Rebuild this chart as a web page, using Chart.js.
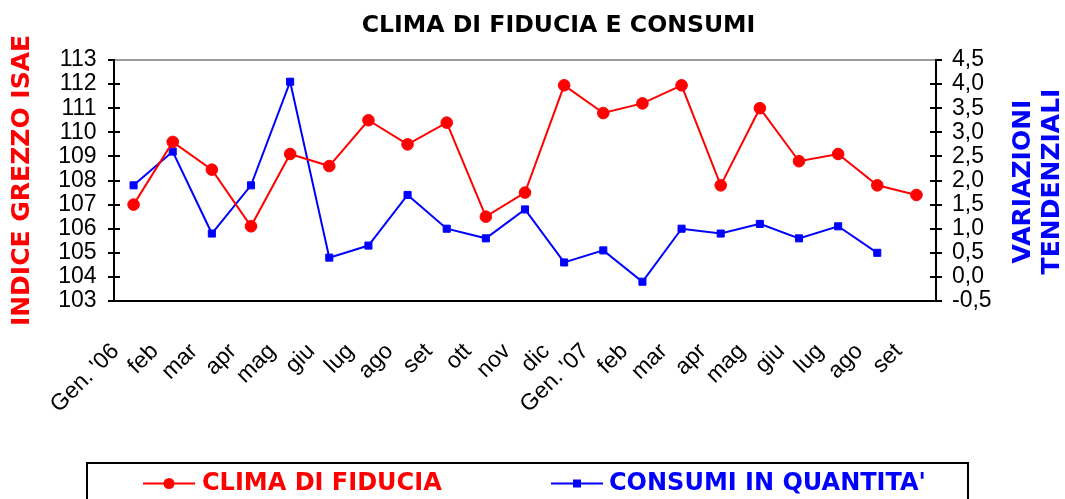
<!DOCTYPE html>
<html>
<head>
<meta charset="utf-8">
<script src="https://cdn.jsdelivr.net/npm/chart.js@4/dist/chart.umd.min.js"></script>
<style>
html,body{margin:0;padding:0;background:#fff;overflow:hidden;}
#wrap{position:relative;width:1065px;height:499px;}
canvas{display:block;}
</style>
</head>
<body>
<div id="wrap"><canvas id="c" width="1065" height="499"></canvas></div>
<script>
// ---- data ----
const categories = ["Gen. '06","feb","mar","apr","mag","giu","lug","ago","set","ott","nov","dic","Gen. '07","feb","mar","apr","mag","giu","lug","ago","set"];
const climaFiducia = [107.0, 109.6, 108.45, 106.1, 109.1, 108.6, 110.5, 109.5, 110.4, 106.5, 107.5, 111.95, 110.8, 111.2, 111.95, 107.8, 111.0, 108.8, 109.1, 107.8, 107.4];
const consumiQuantita = [1.9, 2.6, 0.9, 1.9, 4.05, 0.4, 0.65, 1.7, 1.0, 0.8, 1.4, 0.3, 0.55, -0.1, 1.0, 0.9, 1.1, 0.8, 1.05, 0.5, null];
const seriesNames = ["CLIMA DI FIDUCIA", "CONSUMI IN QUANTITA'"];
const chartTitle = "CLIMA DI FIDUCIA E CONSUMI";
const leftAxisTitle = "INDICE GREZZO ISAE";
const rightAxisTitle = ["VARIAZIONI", "TENDENZIALI"];
const leftRange = [103, 113, 1];
const rightRange = [-0.5, 4.5, 0.5];

const RED = '#ff0000';
const BLUE = '#0000ff';
const TICK_FONT = {family: "'Liberation Sans', Arial, sans-serif", size: 23, lineHeight: 1.0};
const XTICK_FONT = {family: "'Liberation Sans', Arial, sans-serif", size: 23};
const BOLD = "'DejaVu Sans', Verdana, sans-serif";

// right axis title (reads bottom-to-top)
const rightTitlePlugin = {
  id: 'rightTitle',
  afterDraw(chart) {
    const ctx = chart.ctx;
    ctx.save();
    ctx.fillStyle = BLUE;
    ctx.font = "bold 25px " + BOLD;
    ctx.textAlign = 'center';
    ctx.textBaseline = 'middle';
    const xs = [1023.5, 1052];
    rightAxisTitle.forEach((t, i) => {
      ctx.save();
      ctx.translate(xs[i], 181.5);
      ctx.rotate(-Math.PI / 2);
      ctx.fillText(t, 0, 0);
      ctx.restore();
    });
    ctx.restore();
  }
};

// boxed legend with line+marker samples
const boxLegendPlugin = {
  id: 'boxLegend',
  afterDraw(chart) {
    const ctx = chart.ctx;
    ctx.save();
    ctx.strokeStyle = '#000';
    ctx.lineWidth = 2;
    ctx.strokeRect(87, 463, 881, 60);
    const items = [
      {x0: 143, x1: 195, tx: 202},
      {x0: 551, x1: 603, tx: 609}
    ];
    const y = 483.5;
    chart.data.datasets.forEach((ds, i) => {
      const it = items[i];
      ctx.strokeStyle = ds.borderColor;
      ctx.lineWidth = 2;
      ctx.beginPath();
      ctx.moveTo(it.x0, y);
      ctx.lineTo(it.x1, y);
      ctx.stroke();
      ctx.fillStyle = ds.borderColor;
      const cx = (it.x0 + it.x1) / 2;
      if (ds.pointStyle === 'rect') {
        ctx.fillRect(cx - 4, y - 4, 8, 8);
      } else {
        ctx.beginPath();
        ctx.arc(cx, y, 5.5, 0, Math.PI * 2);
        ctx.fill();
      }
      ctx.font = "bold 24px " + BOLD;
      ctx.textAlign = 'left';
      ctx.textBaseline = 'middle';
      ctx.fillText(ds.label, it.tx, y);
    });
    ctx.restore();
  }
};

const fmtComma = v => Number(v).toFixed(1).replace('.', ',');

new Chart(document.getElementById('c'), {
  type: 'line',
  data: {
    labels: categories,
    datasets: [
      {
        label: seriesNames[0], data: climaFiducia, xAxisID: 'x', yAxisID: 'y',
        borderColor: RED, backgroundColor: RED, borderWidth: 2,
        pointStyle: 'circle', pointRadius: 5.8, pointBorderWidth: 1,
        pointBackgroundColor: RED, pointBorderColor: RED, tension: 0, fill: false
      },
      {
        label: seriesNames[1], data: consumiQuantita, xAxisID: 'x', yAxisID: 'y2',
        borderColor: BLUE, backgroundColor: BLUE, borderWidth: 2,
        pointStyle: 'rect', pointRadius: 5, pointBorderWidth: 1,
        pointBackgroundColor: BLUE, pointBorderColor: BLUE, tension: 0, fill: false, spanGaps: false
      }
    ]
  },
  options: {
    responsive: false,
    animation: false,
    devicePixelRatio: 1,
    layout: {padding: {left: 0, right: -52, top: 0, bottom: 0}},
    plugins: {
      legend: {display: false},
      tooltip: {enabled: false},
      title: {
        display: true, text: chartTitle, color: '#000',
        font: {family: BOLD, size: 23.6, weight: 'bold', lineHeight: 1.2},
        padding: {top: 12, bottom: 19.7}
      }
    },
    scales: {
      x: {
        type: 'category', position: 'bottom', offset: true,
        grid: {display: false, drawTicks: false},
        border: {display: true, color: '#000', width: 2},
        ticks: {autoSkip: false, minRotation: 45, maxRotation: 45, labelOffset: -18, padding: 37, color: '#000', font: XTICK_FONT},
        afterFit: s => { s.height = 198; }
      },
      xTop: {
        type: 'category', position: 'top', offset: true,
        grid: {display: false, drawTicks: false},
        border: {display: true, color: '#9a9a9a', width: 2},
        ticks: {display: false},
        afterFit: s => { s.height = 0; }
      },
      y: {
        position: 'left', min: leftRange[0], max: leftRange[1],
        ticks: {stepSize: leftRange[2], autoSkip: false, padding: 11.5, color: '#000', font: TICK_FONT},
        grid: {drawOnChartArea: true, color: '#000', lineWidth: 2, drawTicks: true, tickLength: 6, tickColor: '#000', tickWidth: 2},
        border: {display: true, color: '#000', width: 2, dash: [5, 3000]},
        title: {display: true, text: leftAxisTitle, color: RED, font: {family: BOLD, size: 25, weight: 'bold', lineHeight: 1.2}, padding: {top: 7, bottom: 0}},
        afterFit: s => { s.width = 114; }
      },
      y2: {
        position: 'right', min: rightRange[0], max: rightRange[1],
        ticks: {stepSize: rightRange[2], autoSkip: false, padding: 10, color: '#000', font: TICK_FONT, callback: fmtComma},
        grid: {drawOnChartArea: true, color: '#000', lineWidth: 2, drawTicks: true, tickLength: 6, tickColor: '#000', tickWidth: 2},
        border: {display: true, color: '#000', width: 2, dash: [0, 816, 6, 3000]},
        afterFit: s => { s.width = 181; }
      }
    }
  },
  plugins: [rightTitlePlugin, boxLegendPlugin]
});
</script>
</body>
</html>
